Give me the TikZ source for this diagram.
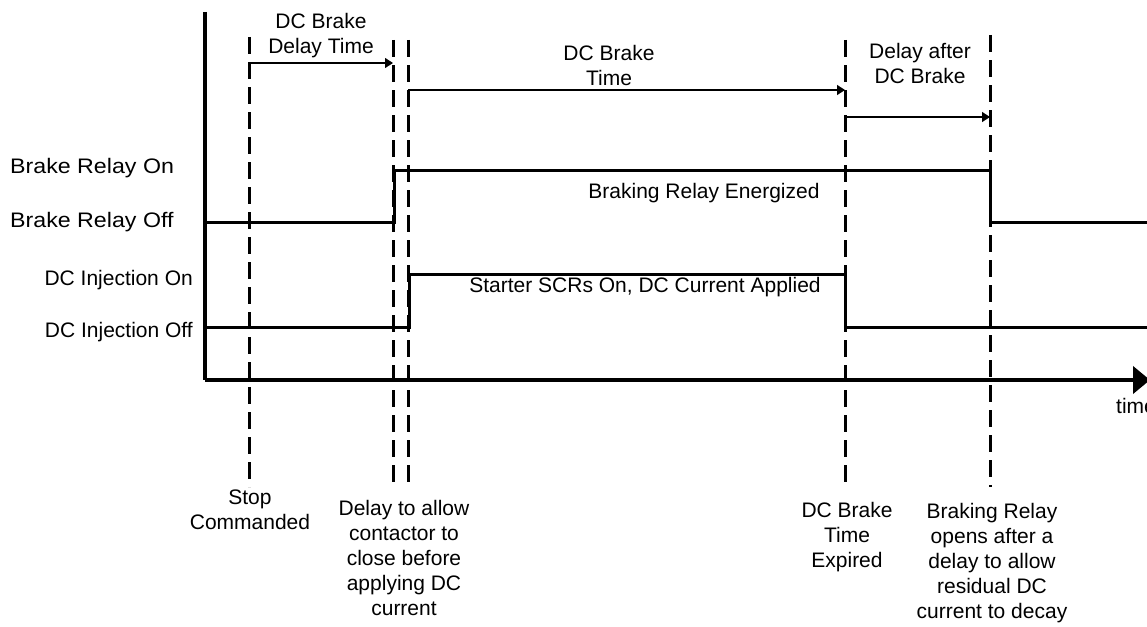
\documentclass[tikz,border=0pt]{standalone}
\usepackage{fontspec}
\setmainfont{Liberation Sans}
\usetikzlibrary{arrows.meta}
\tikzset{
  lbl/.style={inner sep=0pt, font=\fontsize{21}{25}\selectfont},
  mlbl/.style={lbl, align=center, anchor=north},
  axisline/.style={line width=4pt},
  signal/.style={line width=3pt, line join=miter},
  marker/.style={line width=3pt, dash pattern=on 17pt off 8pt},
  span/.style={line width=1.2pt, -{Triangle[length=8pt,width=10pt]}},
}
\begin{document}
\begin{tikzpicture}[x=1pt,y=-1pt]
\useasboundingbox (0,0) rectangle (1147,626);
% vertical dashed markers
\coordinate (m1a) at (249,37);  \coordinate (m1b) at (249,487);
\coordinate (m2a) at (393,40);  \coordinate (m2b) at (393,487);
\coordinate (m3a) at (408,40);  \coordinate (m3b) at (408,487);
\coordinate (m4a) at (845,40);  \coordinate (m4b) at (845,487);
\coordinate (m5a) at (990,35);  \coordinate (m5b) at (990,487);
\foreach \m in {1,...,5} \draw[marker] (m\m a) -- (m\m b);
% axes
\coordinate (ytop) at (205,12);
\coordinate (orig) at (205,380);
\coordinate (xend) at (1150,380);
\draw[axisline] (ytop) -- (orig);
\draw[axisline, -{Triangle[length=17pt,width=27pt]}] (orig) -- (xend);
% brake relay signal
\coordinate (b0) at (205,222);
\coordinate (b1) at (394,222);
\coordinate (b2) at (394,170);
\coordinate (b3) at (990,170);
\coordinate (b4) at (990,222);
\coordinate (b5) at (1150,222);
\draw[signal] (b0) -- (b1) -- (b2) -- (b3) -- (b4) -- (b5);
% dc injection signal
\coordinate (d0) at (205,327);
\coordinate (d1) at (409,327);
\coordinate (d2) at (409,274);
\coordinate (d3) at (845,274);
\coordinate (d4) at (845,327);
\coordinate (d5) at (1150,327);
\draw[signal] (d0) -- (d1) -- (d2) -- (d3) -- (d4) -- (d5);
% span arrows
\coordinate (a1s) at (249,63);  \coordinate (a1e) at (393,63);
\coordinate (a2s) at (408,90);  \coordinate (a2e) at (845,90);
\coordinate (a3s) at (845,117); \coordinate (a3e) at (990,117);
\draw[span] (a1s) -- (a1e);
\draw[span] (a2s) -- (a2e);
\draw[span] (a3s) -- (a3e);
% top labels
\node[mlbl] (l1) at (321,13) {DC Brake\\Delay Time};
\node[mlbl] (l2) at (609,45) {DC Brake\\Time};
\node[mlbl] (l3) at (920,43) {Delay after\\DC Brake};
% level labels
\node[lbl, anchor=base west] (bon) at (10,173) {\scalebox{1.105}[1]{Brake Relay On}};
\node[lbl, anchor=base west] (boff) at (10,227) {\scalebox{1.105}[1]{Brake Relay Off}};
\node[lbl, anchor=base east] (don) at (193,285) {DC Injection On};
\node[lbl, anchor=base east] (doff) at (193,337) {DC Injection Off};
% inner labels
\node[lbl, anchor=base] (bre) at (704,198) {Braking Relay Energized};
\node[lbl, anchor=base] (scr) at (645,292) {Starter SCRs On, DC Current Applied};
\node[lbl, anchor=base west] (tl) at (1116,413) {time};
% bottom labels
\node[mlbl] (e1) at (250,490) {Stop\\Commanded};
\node[mlbl] (e2) at (404,500) {Delay to allow\\contactor to\\close before\\applying DC\\current};
\node[mlbl] (e3) at (847,502) {DC Brake\\Time\\Expired};
\node[mlbl] (e4) at (992,503) {Braking Relay\\opens after a\\delay to allow\\residual DC\\current to decay};
\end{tikzpicture}
\end{document}
